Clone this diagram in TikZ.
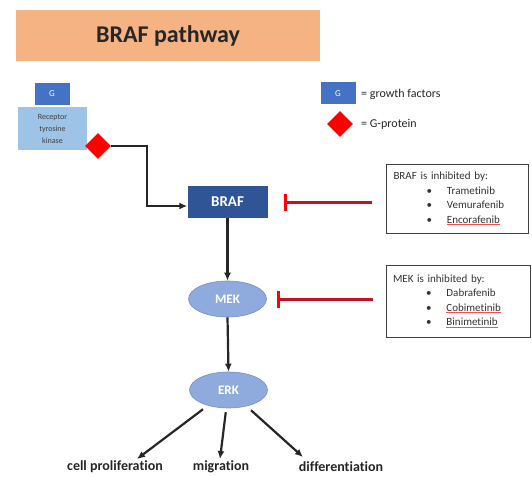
\documentclass[tikz,border=0pt]{standalone}
\usepackage{fontspec}
\setmainfont{Carlito}[Ligatures=NoCommon]
\usetikzlibrary{arrows.meta,shapes.geometric}
\definecolor{titleorange}{RGB}{245,178,131}
\definecolor{gblue}{RGB}{68,114,196}
\definecolor{rtkblue}{RGB}{157,195,230}
\definecolor{brafblue}{RGB}{47,85,151}
\definecolor{ellblue}{RGB}{143,170,220}
\definecolor{ellrim}{RGB}{112,142,200}
\definecolor{inhred}{RGB}{190,20,35}
\newcommand{\drug}[1]{\hspace*{33pt}\textbullet\hspace{15pt}#1}
\newcommand{\flagged}[1]{{\color{red!70}\underline{\textcolor{black!80}{#1}}}}
\begin{document}
\begin{tikzpicture}[x=1pt,y=-1pt,
	gbox/.style={fill=gblue,text=white,minimum width=35pt,minimum height=22pt,inner sep=0pt,font=\fontsize{9}{10}\selectfont},
	kinase/.style={fill=brafblue,text=white,minimum width=80pt,minimum height=32pt,inner sep=0pt,font=\bfseries\fontsize{15}{16}\selectfont},
	enzyme/.style={ellipse,draw=ellrim,line width=0.6pt,fill=ellblue,text=white,minimum width=78pt,minimum height=36pt,inner sep=0pt,font=\bfseries\fontsize{13}{14}\selectfont},
	gprot/.style={diamond,fill=red,minimum width=26pt,minimum height=26pt,inner sep=0pt},
	inhbox/.style={draw=black!75,line width=0.8pt,text width=128pt,align=left,inner xsep=7pt,minimum height=69pt,text=black!80,font=\fontsize{11}{14.5}\selectfont},
	legendtext/.style={anchor=west,inner sep=0pt,text=black!85,font=\fontsize{12}{13}\selectfont},
	outcome/.style={inner sep=0pt,text=black!85,font=\bfseries\fontsize{14}{15}\selectfont},
	flow/.style={-{Latex[length=8pt,width=7pt]},line width=2.2pt,black!85},
	inhib/.style={-{Bar[width=17pt,line width=3pt,color=red]},line width=3pt,inhred}]
\useasboundingbox (0,0) rectangle (532,476);
%					Titre :
\node[fill=titleorange,minimum width=304pt,minimum height=51pt,inner sep=0pt,font=\bfseries\fontsize{24}{26}\selectfont,text=black!85] (title) at (168,35.5) {BRAF pathway};
%					Récepteur :
\node[gbox] (growth) at (52,94) {G};
\node[fill=rtkblue,minimum width=69pt,minimum height=43pt,inner sep=0pt,align=center,text=black!75,font=\fontsize{8}{12}\selectfont] (receptor) at (52.5,128.5) {Receptor\\tyrosine\\kinase};
\node[gprot] (gprot) at (98,146) {};
\coordinate (elbow) at (147,206);
%					Légende :
\node[gbox] (gkey) at (338,93.5) {G};
\node[legendtext] (gtext) at (361,94) {= growth factors};
\node[gprot] (pkey) at (340,124) {};
\node[legendtext] (ptext) at (361,124) {= G-protein};
%					Cascade :
\node[kinase] (braf) at (227.5,202) {BRAF};
\node[enzyme] (mek) at (227.5,299) {MEK};
\node[enzyme] (erk) at (228.5,390) {ERK};
%					Inhibiteurs :
\node[inhbox] (brafinh) at (457.5,198.5) {BRAF is inhibited by:\\
	\drug{Trametinib}\\
	\drug{Vemurafenib}\\
	\drug{\flagged{Encorafenib}}};
\node[inhbox,minimum height=72pt,text width=130pt] (mekinh) at (458,301) {MEK is inhibited by:\\
	\drug{Dabrafenib}\\
	\drug{\flagged{Cobimetinib}}\\
	\drug{\flagged{Binimetinib}}};
\coordinate (brafcut) at (braf.east -| brafinh.west);
\coordinate (mekcut) at (mek.east -| mekinh.west);
%					Effets :
\node[outcome] (prolif) at (115,467) {cell proliferation};
\node[outcome] (migr) at (221,467) {migration};
\node[outcome] (diff) at (341,467) {differentiation};
\coordinate (toprolif) at (137,459);
\coordinate (tomigr) at (220,459);
\coordinate (todiff) at (303,457);
%					Flèches :
\draw[flow] (gprot.east) -| (elbow) -- (elbow -| braf.west);
\draw[flow] (braf.south) -- (mek.north);
\draw[flow] (mek.south) -- (erk.north);
\draw[flow,shorten <=6pt] (erk) -- (toprolif);
\draw[flow,shorten <=4pt] (erk) -- (tomigr);
\draw[flow,shorten <=6pt] (erk) -- (todiff);
\draw[inhib,shorten >=16pt] (brafcut) ++(-14pt,0) -- (braf.east);
\draw[inhib,shorten >=10.5pt] (mekcut) ++(-13pt,0) -- (mek.east);
\end{tikzpicture}
\end{document}
